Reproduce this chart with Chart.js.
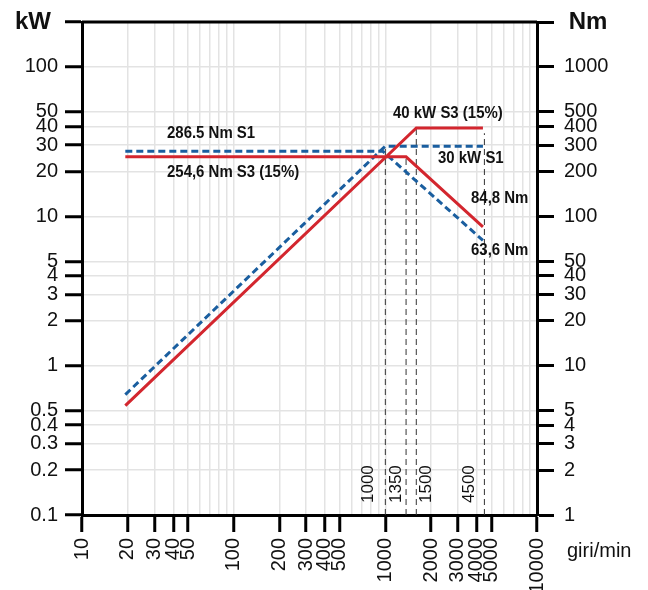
<!DOCTYPE html>
<html>
<head>
<meta charset="utf-8">
<script src="https://cdn.jsdelivr.net/npm/chart.js@4.4.1/dist/chart.umd.min.js"></script>
<style>
  html, body { margin: 0; padding: 0; background: #fff; }
  #wrap { width: 648px; height: 590px; }
</style>
</head>
<body>
<div id="wrap"><canvas id="my-chart"></canvas></div>
<script>
// speed axis (giri/min): grid at every step, labels only on some
const rpmGrid = [10, 20, 30, 40, 50, 60, 70, 80, 90,
  100, 200, 300, 400, 500, 600, 700, 800, 900,
  1000, 2000, 3000, 4000, 5000, 6000, 7000, 8000, 9000, 10000]
const rpmLabeled = [10, 20, 30, 40, 50, 100, 200, 300, 400, 500, 1000, 2000, 3000, 4000, 5000, 10000]

// left axis kW, right axis Nm
const kwTicks = [0.1, 0.2, 0.3, 0.4, 0.5, 1, 2, 3, 4, 5, 10, 20, 30, 40, 50, 100, 200]
const kwLabels = ['0.1', '0.2', '0.3', '0.4', '0.5', '1', '2', '3', '4', '5', '10', '20', '30', '40', '50', '100', '']
const nmTicks = [1, 2, 3, 4, 5, 10, 20, 30, 40, 50, 100, 200, 300, 400, 500, 1000, 2000]
const nmLabels = ['1', '2', '3', '4', '5', '10', '20', '30', '40', '50', '100', '200', '300', '400', '500', '1000', '']

// curves (in kW on the left scale)
const redPowerRpm = [19.3, 1600, 4400]
const redPowerKw = [0.54, 39, 39]
const redTorqueRpm = [19.3, 1370, 4400]
const redTorqueKw = [25, 25, 8.5]
const bluePowerRpm = [19.3, 1000, 4400]
const bluePowerKw = [0.64, 29.5, 29.5]
const blueTorqueRpm = [19.3, 960, 4400]
const blueTorqueKw = [27.3, 27.3, 6.9]

// dashed speed markers
const markerRpm = [1000, 1370, 1600, 4500]
const markerTopKw = [29.5, 25, 39, 36]
const markerLabels = ['1000', '1350', '1500', '4500']

const RED = '#d3262e'
const BLUE = '#1a5e9f'
const FONT = '"Liberation Sans", Arial, Helvetica, sans-serif'

function points(xs, ys) {
  return xs.map((x, i) => ({x: x, y: ys[i]}))
}

const datasets = [
  {label: 'red power', data: points(redPowerRpm, redPowerKw), borderColor: RED, borderWidth: 3},
  {label: 'red torque', data: points(redTorqueRpm, redTorqueKw), borderColor: RED, borderWidth: 3},
  {label: 'blue power', data: points(bluePowerRpm, bluePowerKw), borderColor: BLUE, borderWidth: 3, borderDash: [7, 4]},
  {label: 'blue torque', data: points(blueTorqueRpm, blueTorqueKw), borderColor: BLUE, borderWidth: 3, borderDash: [7, 4]}
]
markerRpm.forEach((rpm, i) => {
  datasets.push({
    label: 'marker ' + markerLabels[i],
    data: [{x: rpm, y: 0.1}, {x: rpm, y: markerTopKw[i]}],
    borderColor: '#333', borderWidth: 1, borderDash: [6, 4]
  })
})

// text placed on the plot
const curveNotes = [
  {text: '286.5 Nm S1', x: 167, y: 133},
  {text: '254,6 Nm S3 (15%)', x: 167, y: 172},
  {text: '40 kW S3 (15%)', x: 393, y: 113},
  {text: '30 kW S1', x: 438, y: 158},
  {text: '84,8 Nm', x: 471, y: 198},
  {text: '63,6 Nm', x: 471, y: 250}
]
const markerLabelShift = [-17, -10, 10, -15]

const overlay = {
  id: 'overlay',
  afterDraw(chart) {
    const {ctx, chartArea, scales} = chart
    ctx.save()
    // top frame line
    ctx.strokeStyle = '#000'
    ctx.lineWidth = 3
    ctx.beginPath()
    ctx.moveTo(chartArea.left, chartArea.top)
    ctx.lineTo(chartArea.right, chartArea.top)
    ctx.stroke()

    ctx.fillStyle = '#111'
    ctx.textBaseline = 'middle'
    ctx.font = 'bold 17px ' + FONT
    curveNotes.forEach(n => {
      ctx.save()
      ctx.translate(n.x, n.y)
      ctx.scale(0.88, 1)
      ctx.textAlign = 'left'
      ctx.fillText(n.text, 0, 0)
      ctx.restore()
    })

    // rotated speed labels next to the dashed lines
    ctx.font = '17px ' + FONT
    markerRpm.forEach((rpm, i) => {
      const px = scales.x.getPixelForValue(rpm) + markerLabelShift[i]
      ctx.save()
      ctx.translate(px, 503)
      ctx.rotate(-Math.PI / 2)
      ctx.textAlign = 'left'
      ctx.fillText(markerLabels[i], 0, 0)
      ctx.restore()
    })

    // axis titles
    ctx.font = 'bold 24px ' + FONT
    ctx.textAlign = 'center'
    ctx.fillText('kW', 33, 22)
    ctx.fillText('Nm', 588, 22)
    ctx.font = '20px ' + FONT
    ctx.textAlign = 'left'
    ctx.fillText('giri/min', 567, 551)
    ctx.restore()
  }
}

const tickFont = {family: FONT, size: 20}

const ctx = document.getElementById('my-chart').getContext('2d')
const chart = new Chart(ctx, {
  type: 'line',
  data: {datasets: datasets},
  options: {
    responsive: true,
    maintainAspectRatio: false,
    animation: false,
    layout: {padding: {top: 16, left: 0, right: 0, bottom: 0}},
    elements: {point: {radius: 0}, line: {tension: 0, borderCapStyle: 'butt'}},
    plugins: {legend: {display: false}, tooltip: {enabled: false}},
    scales: {
      x: {
        type: 'logarithmic', min: 10, max: 10000, position: 'bottom',
        afterBuildTicks: s => { s.ticks = rpmGrid.map(v => ({value: v})) },
        afterFit: s => { s.height = 75 },
        border: {color: '#000', width: 3},
        grid: {
          color: '#e3e3e3', lineWidth: 1.5, tickLength: 17, tickWidth: 3,
          tickColor: c => rpmLabeled.includes(c.tick.value) ? '#000' : 'rgba(0,0,0,0)'
        },
        ticks: {
          autoSkip: false, minRotation: 90, maxRotation: 90, padding: 6,
          color: '#111', font: tickFont,
          callback: v => rpmLabeled.includes(v) ? String(v) : ''
        }
      },
      y: {
        type: 'logarithmic', min: 0.1, max: 200, position: 'left',
        afterBuildTicks: s => { s.ticks = kwTicks.map(v => ({value: v})) },
        afterFit: s => { s.width = 82 },
        border: {color: '#000', width: 3},
        grid: {color: '#e3e3e3', lineWidth: 1.5, tickLength: 17, tickWidth: 3, tickColor: '#000'},
        ticks: {
          autoSkip: false, padding: 7, color: '#111', font: tickFont,
          callback: (v, i) => kwLabels[i]
        }
      },
      y2: {
        type: 'logarithmic', min: 1, max: 2000, position: 'right',
        afterBuildTicks: s => { s.ticks = nmTicks.map(v => ({value: v})) },
        afterFit: s => { s.width = 111 },
        border: {color: '#000', width: 3},
        grid: {drawOnChartArea: false, tickLength: 17, tickWidth: 3, tickColor: '#000'},
        ticks: {
          autoSkip: false, padding: 10, color: '#111', font: tickFont,
          callback: (v, i) => nmLabels[i]
        }
      }
    }
  },
  plugins: [overlay]
})
</script>
</body>
</html>
